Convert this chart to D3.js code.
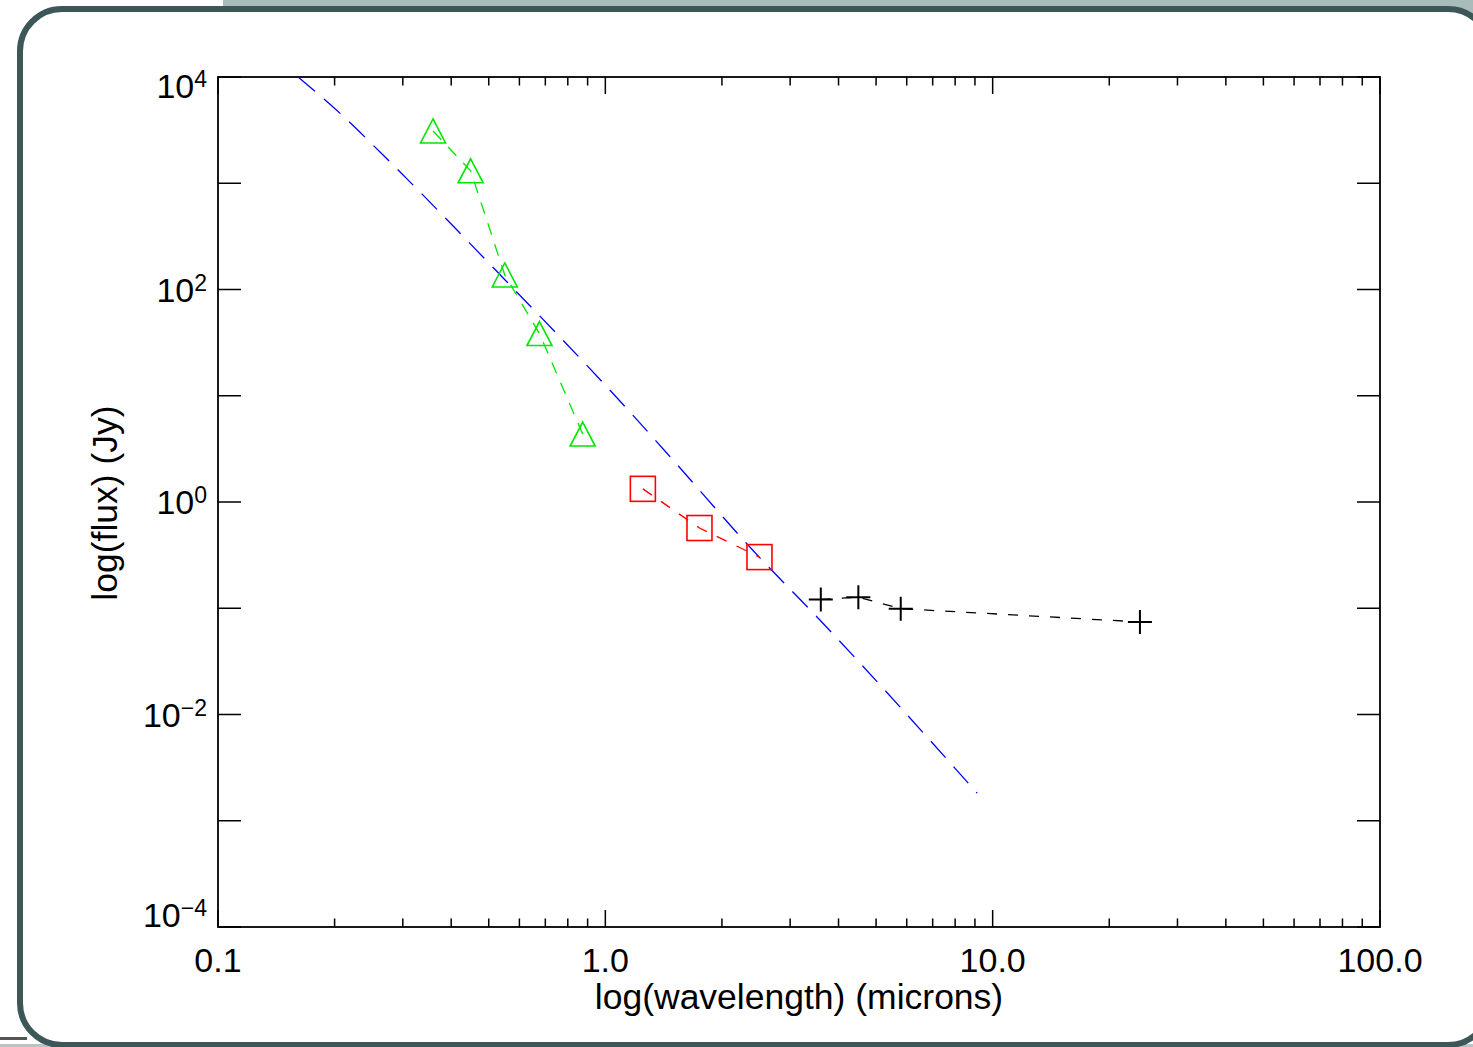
<!DOCTYPE html>
<html>
<head>
<meta charset="utf-8">
<script src="https://cdn.jsdelivr.net/npm/d3@7"></script>
<style>
  html, body { margin: 0; padding: 0; background: #fff; overflow: hidden; }
  svg { display: block; font-family: "Liberation Sans", Arial, Helvetica, sans-serif; }
</style>
</head>
<body>
<script>
// model curve (blue, long dashes)
const modelWave = [0.161, 0.209, 0.262, 0.551, 1.158, 1.496, 2.40, 3.58, 9.12];
const modelFlux = [1e4, 4385, 1968, 123, 7.03, 2.48, 0.353, 0.0775, 0.00182];

// optical photometry (green triangles)
const opticalWave = [0.359, 0.449, 0.550, 0.676, 0.874];
const opticalFlux = [3104, 1310, 137, 38.5, 4.36];

// near-infrared photometry (red squares)
const nirWave = [1.25, 1.75, 2.50];
const nirFlux = [1.33, 0.569, 0.303];

// mid-infrared photometry (black pluses)
const irWave = [3.60, 4.50, 5.79, 24.0];
const irFlux = [0.121, 0.127, 0.0991, 0.0743];

// axis ticks
const xTickValues = [0.1, 1, 10, 100];
const xTickLabels = ["0.1", "1.0", "10.0", "100.0"];
const yTickExps = [4, 2, 0, -2, -4];

const width = 1473, height = 1047;
const plot = { left: 218, right: 1380, top: 77, bottom: 927 };

const svg = d3.select("body").append("svg")
    .attr("width", width)
    .attr("height", height);

// window chrome around the plot
svg.append("rect")
    .attr("x", 223).attr("y", 0).attr("width", width - 223).attr("height", 12)
    .style("fill", "#a8bcb9");
svg.append("rect")
    .attr("x", 1420).attr("y", 0).attr("width", 60).attr("height", 40)
    .style("fill", "#a8bcb9");
svg.append("rect")
    .attr("x", 0).attr("y", 1044).attr("width", width).attr("height", 3)
    .style("fill", "#b9c4c3");
svg.append("rect")
    .attr("x", 0).attr("y", 1037).attr("width", 27).attr("height", 3)
    .style("fill", "#555");
svg.append("rect")
    .attr("x", 20).attr("y", 9).attr("width", 1470).attr("height", 1036)
    .attr("rx", 42).attr("ry", 42)
    .style("fill", "#fff")
    .style("stroke", "#3d5657")
    .style("stroke-width", "6px");

const x = d3.scaleLog().domain([0.1, 100]).range([plot.left, plot.right]);
const y = d3.scaleLog().domain([1e-4, 1e4]).range([plot.bottom, plot.top]);

svg.append("clipPath").attr("id", "clip")
    .append("rect")
    .attr("x", plot.left).attr("y", plot.top)
    .attr("width", plot.right - plot.left).attr("height", plot.bottom - plot.top);

const g = svg.append("g");

// x ticks: majors at decades, minors at 2..9
const xMinor = [];
for (let d = 0.1; d < 100; d *= 10) {
    for (let k = 2; k <= 9; k++) xMinor.push(d * k);
}
const xMajorLen = 17, xMinorLen = 8.5, yLen = 23;

function addXTicks(values, len) {
    g.selectAll(null)
        .data(values)
        .enter().append("path")
        .attr("d", d => `M${x(d)},${plot.bottom}V${plot.bottom - len}M${x(d)},${plot.top}V${plot.top + len}`)
        .style("stroke", "#000")
        .style("stroke-width", "1.5px")
        .style("fill", "none");
}
addXTicks(xTickValues, xMajorLen);
addXTicks(xMinor, xMinorLen);

// y ticks at every decade
const yDecades = d3.range(-4, 5).map(e => Math.pow(10, e));
g.selectAll(null)
    .data(yDecades)
    .enter().append("path")
    .attr("d", d => `M${plot.left},${y(d)}H${plot.left + yLen}M${plot.right},${y(d)}H${plot.right - yLen}`)
    .style("stroke", "#000")
    .style("stroke-width", "1.5px")
    .style("fill", "none");

// plot frame
g.append("rect")
    .attr("x", plot.left).attr("y", plot.top)
    .attr("width", plot.right - plot.left).attr("height", plot.bottom - plot.top)
    .style("fill", "none")
    .style("stroke", "#000")
    .style("stroke-width", "1.8px");

// x tick labels
g.selectAll(null)
    .data(xTickValues)
    .enter().append("text")
    .attr("x", d => x(d))
    .attr("y", 972)
    .attr("text-anchor", "middle")
    .style("font-size", "34px")
    .text((d, i) => xTickLabels[i]);

// y tick labels (10^n)
const yLabel = g.selectAll(null)
    .data(yTickExps)
    .enter().append("text")
    .attr("x", plot.left - 11)
    .attr("y", (d, i) => {
        let yy = y(Math.pow(10, d)) + 12;
        if (i === 0) yy += 9;
        if (i === yTickExps.length - 1) yy -= 12;
        return yy;
    })
    .attr("text-anchor", "end")
    .style("font-size", "34px");
yLabel.append("tspan").text("10");
yLabel.append("tspan")
    .attr("dy", -11)
    .style("font-size", "23px")
    .text(d => d < 0 ? "\u2212" + Math.abs(d) : String(d));

// axis titles
svg.append("text")
    .attr("x", 799)
    .attr("y", 1009)
    .attr("text-anchor", "middle")
    .style("font-size", "35.5px")
    .text("log(wavelength) (microns)");

svg.append("text")
    .attr("transform", `translate(117,503) rotate(-90)`)
    .attr("text-anchor", "middle")
    .style("font-size", "35.5px")
    .text("log(flux) (Jy)");

// data layers
const lineGen = d3.line().x(d => x(d[0])).y(d => y(d[1]));
const data = g.append("g").attr("clip-path", "url(#clip)");

function series(wave, flux, color, dash, curve) {
    const pts = wave.map((w, i) => [w, flux[i]]);
    data.append("path")
        .datum(pts)
        .attr("d", lineGen.curve(curve || d3.curveLinear)(pts))
        .style("fill", "none")
        .style("stroke", color)
        .style("stroke-width", "1.3px")
        .style("stroke-dasharray", dash);
    return pts;
}

series(modelWave, modelFlux, "#0000ff", "22,12", d3.curveMonotoneX);
const optPts = series(opticalWave, opticalFlux, "#00e600", "12,10");
const nirPts = series(nirWave, nirFlux, "#ff0000", "11,11");
const irPts = series(irWave, irFlux, "#000", "10,11");

// markers
data.selectAll(".tri")
    .data(optPts)
    .enter().append("path")
    .attr("class", "tri")
    .attr("transform", d => `translate(${x(d[0])},${y(d[1])})`)
    .attr("d", "M0,-12L12.5,12L-12.5,12Z")
    .style("fill", "none")
    .style("stroke", "#00e600")
    .style("stroke-width", "1.6px");

data.selectAll(".sq")
    .data(nirPts)
    .enter().append("rect")
    .attr("class", "sq")
    .attr("x", d => x(d[0]) - 12.5)
    .attr("y", d => y(d[1]) - 12.5)
    .attr("width", 25)
    .attr("height", 25)
    .style("fill", "none")
    .style("stroke", "#ff0000")
    .style("stroke-width", "1.6px");

data.selectAll(".plus")
    .data(irPts)
    .enter().append("path")
    .attr("class", "plus")
    .attr("transform", d => `translate(${x(d[0])},${y(d[1])})`)
    .attr("d", "M-12,0H12M0,-12V12")
    .style("fill", "none")
    .style("stroke", "#000")
    .style("stroke-width", "2px");
</script>
</body>
</html>
